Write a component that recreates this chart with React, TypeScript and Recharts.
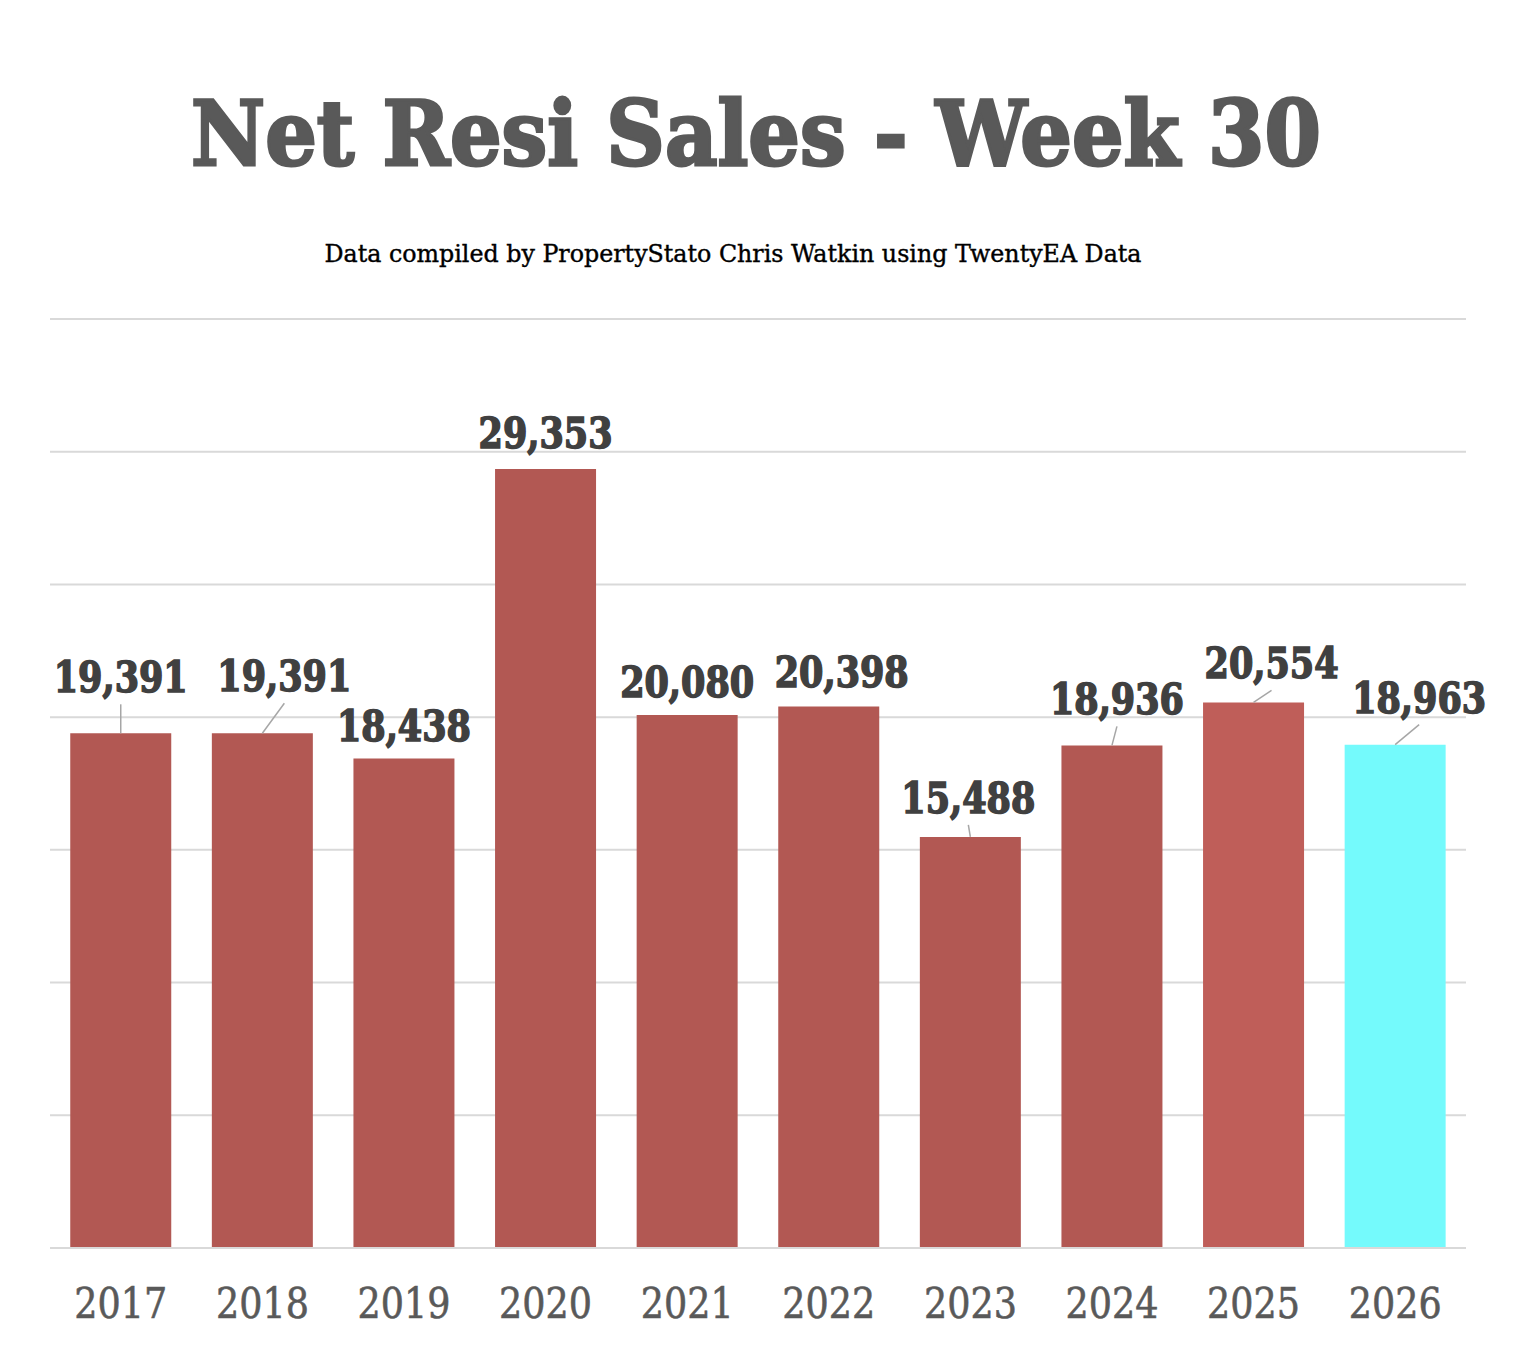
import React from 'react';
import { BarChart, Bar, XAxis, YAxis, CartesianGrid, Cell, LabelList } from 'recharts';

const years = ['2017', '2018', '2019', '2020', '2021', '2022', '2023', '2024', '2025', '2026'];
const sales = [19391, 19391, 18438, 29353, 20080, 20398, 15488, 18936, 20554, 18963];
const yTicks = [0, 5000, 10000, 15000, 20000, 25000, 30000, 35000];

const barColors = ['#B25853', '#B25853', '#B25853', '#B25853', '#B25853', '#B25853', '#B25853', '#B25853', '#BF5E59', '#74FAFC'];
const labelOffsetX = [0, 22, 0, 0, 0, 13, -2, 5, 18, 24];
const labelOffsetY = [-41, -42, -18, -21, -18, -20, -24, -31, -24, -32];
const labelLeader = [true, true, false, false, false, false, true, true, true, true];

const data = years.map((year, i) => ({ year, sales: sales[i] }));

const FONT = "'DejaVu Serif', serif";

const ValueLabel = (props: any) => {
  const { x, y, width, value, index } = props;
  const bx = Number(x) + Number(width) / 2;
  const by = Number(y);
  const lx = bx + labelOffsetX[index];
  const ly = by + labelOffsetY[index];
  const text = Number(value).toLocaleString('en-US');
  return (
    <g>
      {labelLeader[index] && (
        <line x1={lx} y1={ly + 12} x2={bx} y2={by} stroke="#A6A6A6" strokeWidth={1.5} />
      )}
      <text
        x={lx}
        y={ly}
        textAnchor="middle"
        fontFamily={FONT}
        fontWeight="bold"
        fontSize={42}
        fill="#404040"
        stroke="#404040"
        strokeWidth={1.6}
        textLength={134}
        lengthAdjust="spacingAndGlyphs"
      >
        {text}
      </text>
    </g>
  );
};

const YearTick = (props: any) => {
  const { x, y, payload } = props;
  return (
    <text
      x={x}
      y={Number(y) + 70}
      textAnchor="middle"
      fontFamily={FONT}
      fontSize={42}
      fill="#595959"
      stroke="#595959"
      strokeWidth={0.6}
      textLength={93}
      lengthAdjust="spacingAndGlyphs"
    >
      {payload.value}
    </text>
  );
};

export default function App() {
  return (
    <div style={{ position: 'relative', width: 1508, height: 1334, background: '#fff' }}>
      <svg width={1508} height={300} style={{ position: 'absolute', left: 0, top: 0 }}>
        <text
          x={748}
          y={157}
          textAnchor="middle"
          fontFamily={FONT}
          fontWeight="bold"
          fontSize={90}
          fill="#595959"
          stroke="#595959"
          strokeWidth={3}
          textLength={1130}
          lengthAdjust="spacingAndGlyphs"
        >
          Net Resi Sales - Week 30
        </text>
        <text
          x={725}
          y={254}
          textAnchor="middle"
          fontFamily={FONT}
          fontSize={24}
          fill="#000000"
          stroke="#000000"
          strokeWidth={0.4}
          textLength={817}
          lengthAdjust="spacingAndGlyphs"
        >
          Data compiled by PropertyStato Chris Watkin using TwentyEA Data
        </text>
      </svg>
      <div style={{ position: 'absolute', left: 0, top: 0 }}>
        <BarChart
          width={1508}
          height={1334}
          data={data}
          margin={{ top: 311, right: 50, bottom: 34, left: 42 }}
          barCategoryGap="14.3%"
        >
          <CartesianGrid vertical={false} stroke="#D9D9D9" strokeWidth={2} />
          <YAxis hide domain={[0, 35000]} ticks={yTicks} type="number" />
          <XAxis
            dataKey="year"
            height={60}
            tick={<YearTick />}
            tickLine={false}
            tickSize={0}
            tickMargin={0}
            axisLine={{ stroke: '#D9D9D9', strokeWidth: 2 }}
            interval={0}
          />
          <Bar dataKey="sales" isAnimationActive={false}>
            {data.map((d, i) => (
              <Cell key={d.year} fill={barColors[i]} />
            ))}
            <LabelList dataKey="sales" content={<ValueLabel />} />
          </Bar>
        </BarChart>
      </div>
    </div>
  );
}
